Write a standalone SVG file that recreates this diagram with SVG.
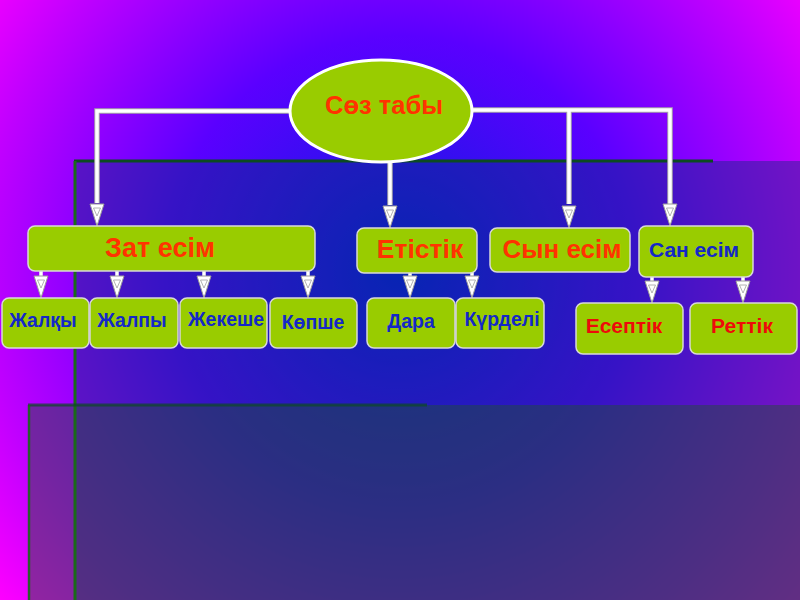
<svg xmlns="http://www.w3.org/2000/svg" xmlns:xlink="http://www.w3.org/1999/xlink" width="800" height="600" viewBox="0 0 800 600">
<defs>
<radialGradient id="bg" cx="400" cy="270" r="520" gradientUnits="userSpaceOnUse">
<stop offset="0" stop-color="#0c1ee0"/>
<stop offset="0.45" stop-color="#5a00ff"/>
<stop offset="0.8" stop-color="#c000ff"/>
<stop offset="1" stop-color="#ff00ff"/>
</radialGradient>
<g id="ah">
<polygon points="-7,0 7,0 0,22" fill="#ffffff" stroke="#9a9a9a" stroke-width="1"/>
<polygon points="-3.5,4 3.5,4 0,12" fill="none" stroke="#a0a0a0" stroke-width="0.8"/>
</g>
<style>
.box{fill:#99cc00;stroke:#d8d8d8;stroke-width:1.5}
.t{font-family:"Liberation Sans",Arial,sans-serif;font-weight:bold;text-anchor:middle}
.or{fill:#ff3300}
.rd{fill:#ee0a0a}
.bl{fill:#1428c8}
.ln{fill:none;stroke:#ffffff;stroke-width:3.5}
.lnb{fill:none;stroke:#a8a8a8;stroke-width:5.5}
.gr{stroke:#0c4a22;stroke-width:3;fill:none}
</style>
</defs>
<rect x="0" y="0" width="800" height="600" fill="url(#bg)"/>
<rect x="75" y="161" width="725" height="439" fill="#003070" fill-opacity="0.4"/>
<rect x="28" y="405" width="772" height="195" fill="#205030" fill-opacity="0.45"/>
<path class="gr" d="M74,161 H713"/>
<path d="M75,161 V600" stroke="#1a6a1a" stroke-width="3" fill="none"/>
<path d="M28,405 H427" stroke="#0c4a22" stroke-width="3" fill="none" stroke-opacity="0.7"/>
<path d="M29,405 V600" stroke="#1a6a1a" stroke-width="2.5" fill="none" stroke-opacity="0.85"/>

<g id="connectors">
<path class="lnb" d="M97,203 V111 H292 M470,110 H670 V204 M569,110 V204 M390,163 V205"/>
<path class="ln" d="M97,203 V111 H292 M470,110 H670 V204 M569,110 V204 M390,163 V205"/>
<path class="ln" d="M41,270 V276 M117,270 V276 M204,270 V276 M308,270 V276 M410,272 V276 M472,272 V276 M652,276 V281 M743,276 V281"/>
<use xlink:href="#ah" transform="translate(97,204)"/>
<use xlink:href="#ah" transform="translate(390,206)"/>
<use xlink:href="#ah" transform="translate(569,206)"/>
<use xlink:href="#ah" transform="translate(670,204)"/>
<use xlink:href="#ah" transform="translate(41,276)"/>
<use xlink:href="#ah" transform="translate(117,276)"/>
<use xlink:href="#ah" transform="translate(204,276)"/>
<use xlink:href="#ah" transform="translate(308,276)"/>
<use xlink:href="#ah" transform="translate(410,276)"/>
<use xlink:href="#ah" transform="translate(472,276)"/>
<use xlink:href="#ah" transform="translate(652,281)"/>
<use xlink:href="#ah" transform="translate(743,281)"/>
</g>

<g id="root">
<ellipse cx="381" cy="111" rx="91" ry="51" fill="#99cc00" stroke="#ffffff" stroke-width="3"/>
<text class="t or" x="384" y="114" font-size="25.5">Сөз табы</text>
</g>

<g id="zat">
<rect class="box" x="28" y="226" width="287" height="45" rx="7"/>
<text class="t or" x="160" y="257" font-size="27">Зат есім</text>
</g>
<g id="etistik">
<rect class="box" x="357" y="228" width="120" height="45" rx="7"/>
<text class="t or" x="420" y="258" font-size="26.5">Етістік</text>
</g>
<g id="syn">
<rect class="box" x="490" y="228" width="140" height="44" rx="7"/>
<text class="t or" x="562" y="258" font-size="26">Сын есім</text>
</g>
<g id="san">
<rect class="box" x="639" y="226" width="114" height="51" rx="7"/>
<text class="t bl" x="694" y="257" font-size="21">Сан есім</text>
</g>

<g id="zhalqy">
<rect class="box" x="2" y="298" width="87" height="50" rx="7"/>
<text class="t bl" x="43" y="327" font-size="19.5">Жалқы</text>
</g>
<g id="zhalpy">
<rect class="box" x="90" y="298" width="88" height="50" rx="7"/>
<text class="t bl" x="132" y="327" font-size="19.5">Жалпы</text>
</g>
<g id="zhekeshe">
<rect class="box" x="180" y="298" width="87" height="50" rx="7"/>
<text class="t bl" x="226" y="326" font-size="19.5">Жекеше</text>
</g>
<g id="kopshe">
<rect class="box" x="270" y="298" width="87" height="50" rx="7"/>
<text class="t bl" x="313" y="329" font-size="19.5">Көпше</text>
</g>
<g id="dara">
<rect class="box" x="367" y="298" width="88" height="50" rx="7"/>
<text class="t bl" x="411" y="328" font-size="19.5">Дара</text>
</g>
<g id="kurdeli">
<rect class="box" x="456" y="298" width="88" height="50" rx="7"/>
<text class="t bl" x="502" y="326" font-size="19.5">Күрделі</text>
</g>
<g id="eseptik">
<rect class="box" x="576" y="303" width="107" height="51" rx="7"/>
<text class="t rd" x="624" y="333" font-size="21">Есептік</text>
</g>
<g id="rettik">
<rect class="box" x="690" y="303" width="107" height="51" rx="7"/>
<text class="t rd" x="742" y="333" font-size="21">Реттік</text>
</g>
</svg>
